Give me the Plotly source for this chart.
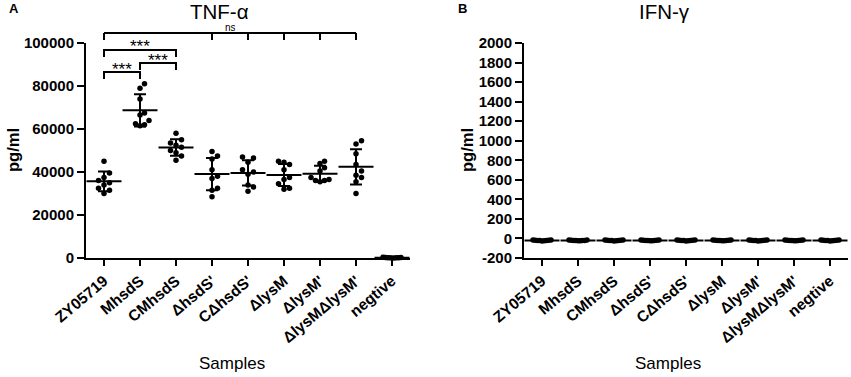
import numpy as np
import plotly.graph_objects as go

# ---------------- data ----------------
categories = ["ZY05719", "MhsdS", "CMhsdS", "ΔhsdS'", "CΔhsdS'",
              "ΔlysM", "ΔlysM'", "ΔlysMΔlysM'", "negtive"]

tnf_zy05719 = [45000, 39500, 37500, 36000, 35000, 34000, 32500, 31500, 30000]
tnf_mhsds = [81000, 79000, 74000, 67500, 66500, 64000, 62500, 62000, 61500]
tnf_cmhsds = [58000, 55000, 53500, 52500, 51500, 50000, 49000, 47500, 45500]
tnf_dhsds = [49500, 47500, 46000, 41000, 38000, 37000, 32500, 31500, 28500]
tnf_cdhsds = [47000, 46500, 44500, 41000, 40000, 39000, 34000, 33000, 31000]
tnf_dlysm = [45000, 44500, 43500, 41000, 37500, 36500, 34500, 32500, 32000]
tnf_dlysm2 = [45000, 44000, 42000, 40500, 37500, 36500, 36000, 36000, 35500]
tnf_dlysm_dlysm2 = [54500, 53000, 48500, 43500, 40500, 38500, 37500, 35500, 30000]
tnf_negtive = [300, 250, 200, 150, 150, 100, 100, 50, 0]

ifn_zy05719 = [-15, -17, -18, -19, -20, -21, -22, -23, -25]
ifn_mhsds = [-16, -17, -18, -20, -20, -21, -22, -23, -24]
ifn_cmhsds = [-15, -16, -18, -19, -20, -21, -22, -24, -25]
ifn_dhsds = [-16, -17, -19, -19, -20, -21, -22, -23, -24]
ifn_cdhsds = [-15, -17, -18, -19, -20, -20, -22, -23, -25]
ifn_dlysm = [-16, -17, -18, -19, -20, -21, -21, -23, -24]
ifn_dlysm2 = [-15, -16, -18, -19, -20, -21, -22, -23, -25]
ifn_dlysm_dlysm2 = [-16, -17, -18, -19, -20, -21, -22, -23, -24]
ifn_negtive = [-15, -17, -18, -19, -20, -21, -22, -23, -25]

tnf_groups = [tnf_zy05719, tnf_mhsds, tnf_cmhsds, tnf_dhsds, tnf_cdhsds,
              tnf_dlysm, tnf_dlysm2, tnf_dlysm_dlysm2, tnf_negtive]
ifn_groups = [ifn_zy05719, ifn_mhsds, ifn_cmhsds, ifn_dhsds, ifn_cdhsds,
              ifn_dlysm, ifn_dlysm2, ifn_dlysm_dlysm2, ifn_negtive]

tnf_ticks = [0, 20000, 40000, 60000, 80000, 100000]
ifn_ticks = [-200, 0, 200, 400, 600, 800, 1000, 1200, 1400, 1600, 1800, 2000]

# significance brackets: (start category, end category, label)
sig_pairs = [(0, 1, "***"), (1, 2, "***"), (0, 2, "***")]
sig_levels = [83250, 87440, 93500]      # leg bottoms
ns_legs = [0, 3, 4, 5, 6, 7]

# ---------------- layout geometry ----------------
W, H = 851, 377
FONT = "Liberation Sans, Arial, sans-serif"
ydom = [119 / H, 334 / H]
xdomA = [86 / W, 410 / W]
xdomB = [524 / W, 848 / W]
xrange_ = [-0.5, 8.5]
yrangeA = [0, 100000]
yrangeB = [-200, 2000]
plot_h = (ydom[1] - ydom[0]) * H
plot_w = (xdomA[1] - xdomA[0]) * W
px_per_cat = plot_w / (xrange_[1] - xrange_[0])


def swarm(vals, px_per_y, d=5.5, maxw=9.0):
    vals = np.asarray(vals, dtype=float)
    order = np.argsort(vals)
    placed = []
    offs = np.zeros(len(vals))
    ks = [0]
    for k in range(1, 40):
        ks += [k, -k]
    for idx in order:
        py = vals[idx] * px_per_y
        dx = 0.0
        for k in ks:
            dx = k * d
            if all((dx - a) ** 2 + (py - b) ** 2 >= (d * 0.999) ** 2 for a, b in placed):
                break
        placed.append((dx, py))
        offs[idx] = dx
    m = np.max(np.abs(offs))
    if m > maxw:
        offs *= maxw / m
    return offs / px_per_cat


def panel_traces(groups, yr, xa, ya):
    ppy = plot_h / (yr[1] - yr[0])
    xs, ys = [], []
    for i, g in enumerate(groups):
        offs = swarm(g, ppy)
        xs += list(i + offs)
        ys += list(g)
    pts = go.Scatter(x=xs, y=ys, mode="markers", xaxis=xa, yaxis=ya,
                     marker=dict(color="black", size=5.5), cliponaxis=False,
                     showlegend=False, hoverinfo="skip")
    means = [float(np.mean(g)) for g in groups]
    sds = [float(np.std(g, ddof=1)) for g in groups]
    mtr = go.Scatter(x=list(range(len(groups))), y=means, mode="markers",
                     xaxis=xa, yaxis=ya, cliponaxis=False, showlegend=False,
                     marker=dict(symbol="line-ew", size=25, color="black",
                                 line=dict(color="black", width=2)),
                     error_y=dict(type="data", array=sds, visible=True,
                                  width=6, thickness=2, color="black"),
                     hoverinfo="skip")
    return [pts, mtr]


fig = go.Figure()
for t in panel_traces(tnf_groups, yrangeA, "x", "y"):
    fig.add_trace(t)
for t in panel_traces(ifn_groups, yrangeB, "x2", "y2"):
    fig.add_trace(t)

xaxis_common = dict(range=xrange_, tickvals=list(range(len(categories))),
                    ticktext=categories, tickangle=-40, automargin=False,
                    tickfont=dict(family=FONT, size=15.5, color="black", weight="bold"),
                    ticks="outside", ticklen=6, tickwidth=2, tickcolor="black",
                    showline=True, linewidth=2, linecolor="black",
                    showgrid=False, zeroline=False, fixedrange=True)
yaxis_common = dict(tickfont=dict(family=FONT, size=15, color="black", weight="bold"),
                    ticks="outside", ticklen=7, tickwidth=2, tickcolor="black",
                    automargin=False,
                    showline=True, linewidth=2, linecolor="black",
                    showgrid=False, zeroline=False, fixedrange=True, domain=ydom)

fig.update_layout(
    width=W, height=H, margin=dict(l=0, r=0, t=0, b=0, pad=0),
    paper_bgcolor="white", plot_bgcolor="white",
    font=dict(family=FONT, color="black"),
    xaxis=dict(domain=xdomA, anchor="y", **xaxis_common),
    xaxis2=dict(domain=xdomB, anchor="y2", **xaxis_common),
    yaxis=dict(range=yrangeA, anchor="x", tickvals=tnf_ticks,
               ticktext=[str(v) for v in tnf_ticks], **yaxis_common),
    yaxis2=dict(range=yrangeB, anchor="x2", tickvals=ifn_ticks,
                ticktext=[str(v) for v in ifn_ticks], **yaxis_common),
)


def v2p(v):
    return ydom[0] + (v - yrangeA[0]) / (yrangeA[1] - yrangeA[0]) * (ydom[1] - ydom[0])


px_unit = (yrangeA[1] - yrangeA[0]) / plot_h  # data units per pixel
leg_len = 7 * px_unit

shapes = []
annotations = []
for (a, b, lab), lev in zip(sig_pairs, sig_levels):
    top = lev + leg_len
    path = f"M {a},{v2p(lev)} L {a},{v2p(top)} L {b},{v2p(top)} L {b},{v2p(lev)}"
    shapes.append(dict(type="path", path=path, xref="x", yref="paper",
                       line=dict(color="black", width=2)))
    annotations.append(dict(x=(a + b) / 2, y=v2p(top + 3 * px_unit), xref="x", yref="paper",
                            text=lab, showarrow=False, xanchor="center", yanchor="middle",
                            font=dict(family=FONT, size=17, color="black")))

ns_low = 101400
ns_top = ns_low + leg_len
path = f"M {ns_legs[0]},{v2p(ns_top)} L {ns_legs[-1]},{v2p(ns_top)}"
for c in ns_legs:
    path += f" M {c},{v2p(ns_top)} L {c},{v2p(ns_low)}"
shapes.append(dict(type="path", path=path, xref="x", yref="paper",
                   line=dict(color="black", width=2)))
annotations.append(dict(x=(ns_legs[0] + ns_legs[-1]) / 2, y=v2p(ns_top + 5.5 * px_unit),
                        xref="x", yref="paper", text="ns", showarrow=False,
                        xanchor="center", yanchor="middle", height=8,
                        font=dict(family=FONT, size=10, color="black")))

# titles and labels
def pa(x, y, text, size, bold=False, angle=0, height=None):
    d = dict(x=x / W, y=1 - y / H, xref="paper", yref="paper", text=text,
             showarrow=False, xanchor="center", yanchor="middle", textangle=angle,
             font=dict(family=FONT, size=size, color="black",
                       weight="bold" if bold else "normal"))
    if height:
        d["height"] = height
    return d

annotations += [
    pa(219, 11, "TNF-α", 20.5, height=24),
    pa(664, 11, "IFN-γ", 20.5, height=24),
    pa(14, 9, "A", 13, bold=True),
    pa(462, 8, "B", 13, bold=True),
    pa(13, 150, "pg/ml", 16.5, bold=True, angle=-90),
    pa(467, 150, "pg/ml", 16.5, bold=True, angle=-90),
    pa(232, 363, "Samples", 17),
    pa(668, 363, "Samples", 17),
]

fig.update_layout(shapes=shapes, annotations=annotations)
fig.write_html("out.html", config={"displayModeBar": False},
               post_script="document.body.style.margin='0px';document.body.style.padding='0px';")
